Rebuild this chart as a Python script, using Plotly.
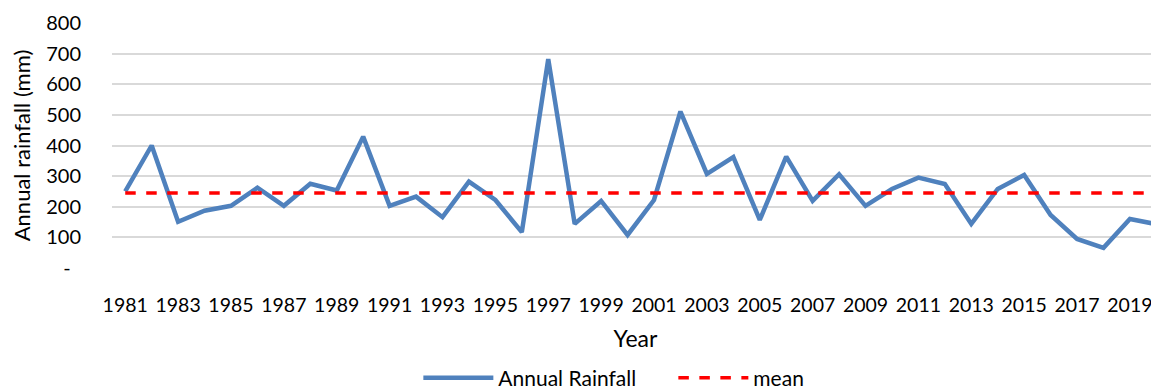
import plotly.graph_objects as go

years = list(range(1981, 2021))
rainfall = [250, 400, 151, 187, 203, 262, 203, 275, 253, 429,
            203, 233, 166, 282, 222, 117, 682, 144, 219, 108,
            222, 511, 307, 362, 157, 364, 219, 306, 203, 258,
            295, 274, 144, 258, 304, 173, 95, 66, 160, 143]
mean_value = 245
mean_series = [mean_value] * len(years)

y_tickvals = [0, 100, 200, 300, 400, 500, 600, 700, 800]
y_ticktext = ["-\u00a0\u00a0", "100", "200", "300", "400", "500", "600", "700", "800"]
x_tickvals = list(range(1981, 2020, 2))
x_ticktext = [str(v) for v in x_tickvals]

FONT = "Lato"

fig = go.Figure()
fig.add_trace(go.Scatter(x=years, y=rainfall, mode="lines", name="Annual Rainfall",
                         line=dict(color="#4F81BD", width=4.5)))
fig.add_trace(go.Scatter(x=years, y=mean_series, mode="lines", name="mean",
                         line=dict(color="#FF0000", width=3.5, dash="dash")))

# page body has an 8px default margin, so the figure is sized to fit the window
fig.update_layout(
    width=1151, height=381,
    margin=dict(l=104, r=0, t=15, b=121, autoexpand=False),
    paper_bgcolor="white", plot_bgcolor="white",
    font=dict(family=FONT, size=20, color="#000000"),
    showlegend=True,
    legend=dict(orientation="h", x=0.2926, xanchor="left", y=-0.449, yanchor="middle",
                font=dict(family=FONT, size=21), itemwidth=70, entrywidth=170,
                traceorder="normal"),
    xaxis=dict(range=[1980.5, 2020.1], tickvals=x_tickvals, ticktext=x_ticktext,
               showgrid=False, zeroline=False, showline=False, automargin=False,
               ticks="outside", ticklen=20, tickcolor="rgba(0,0,0,0)",
               tickfont=dict(family=FONT, size=19.5),
               title=dict(text="Year", font=dict(family=FONT, size=23), standoff=15)),
    yaxis=dict(range=[0, 800], tickvals=y_tickvals, ticktext=y_ticktext,
               showgrid=True, gridcolor="#D9D9D9", gridwidth=1.5,
               zeroline=False, showline=False, automargin=False,
               ticks="outside", ticklen=26, tickcolor="rgba(0,0,0,0)",
               tickfont=dict(family=FONT, size=20),
               title=dict(text="Annual rainfall (mm)", font=dict(family=FONT, size=22), standoff=10)),
)

fig.write_html("out.html")
